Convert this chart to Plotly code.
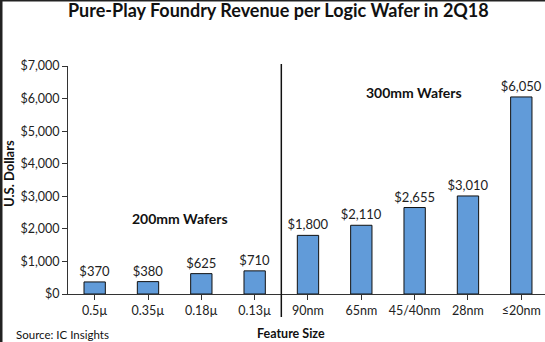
import plotly.graph_objects as go

# Revenue per wafer by process node, 2Q18
categories = ["0.5µ", "0.35µ", "0.18µ", "0.13µ", "90nm", "65nm", "45/40nm", "28nm", "≤20nm"]
revenue = [370, 380, 625, 710, 1800, 2110, 2655, 3010, 6050]
y_ticks = [0, 1000, 2000, 3000, 4000, 5000, 6000, 7000]
y_tick_labels = ["$0", "$1,000", "$2,000", "$3,000", "$4,000", "$5,000", "$6,000", "$7,000"]

W, H = 545, 342
ML, MR, MT, MB = 68, 0, 66, 48
pw, ph = W - ML - MR, H - MT - MB

def px_x(x):
    return (x - ML) / pw

def px_y(y):
    return (H - MB - y) / ph

FONT = "Lato, Calibri, sans-serif"
TXT = "#222222"

fig = go.Figure(
    go.Bar(
        x=list(range(len(categories))),
        y=revenue,
        width=0.4,
        marker=dict(color="#619bd9", line=dict(color="#111111", width=1)),
        text=[f"${v:,}" for v in revenue],
        textposition="outside",
        constraintext="none",
        cliponaxis=False,
        textfont=dict(family=FONT, size=13, color=TXT),
        hoverinfo="skip",
    )
)

fig.update_layout(
    width=W,
    height=H,
    margin=dict(l=ML, r=MR, t=MT, b=MB),
    paper_bgcolor="white",
    plot_bgcolor="white",
    showlegend=False,
    font=dict(family=FONT, color=TXT),
    xaxis=dict(
        range=[-0.5, -0.5 + pw / 53.33],
        tickmode="array",
        tickvals=list(range(len(categories))),
        ticktext=categories,
        tickson="boundaries",
        ticks="outside",
        ticklen=5,
        tickcolor="#333333",
        showline=True,
        linecolor="#333333",
        linewidth=1,
        showgrid=False,
        zeroline=False,
        tickfont=dict(family=FONT, size=12.5, color=TXT),
    ),
    yaxis=dict(
        range=[0, 7000],
        tickmode="array",
        tickvals=y_ticks,
        ticktext=y_tick_labels,
        ticks="outside",
        ticklen=5,
        tickcolor="#333333",
        showline=True,
        linecolor="#333333",
        linewidth=1,
        showgrid=False,
        zeroline=False,
        tickfont=dict(family=FONT, size=12.5, color=TXT),
    ),
)

# Divider between 200mm and 300mm nodes
fig.add_shape(type="line", xref="x", yref="paper", x0=3.5, x1=3.5,
              y0=px_y(317), y1=px_y(64), line=dict(color="#111111", width=1.5))

# Frame edges on the left and top
fig.add_shape(type="line", xref="paper", yref="paper", x0=px_x(1), x1=px_x(1),
              y0=px_y(H), y1=px_y(0), line=dict(color="#222222", width=3))
fig.add_shape(type="line", xref="paper", yref="paper", x0=px_x(0), x1=px_x(W),
              y0=px_y(0.5), y1=px_y(0.5), line=dict(color="#222222", width=2))

ann = [
    dict(text="<b>Pure-Play Foundry Revenue per Logic Wafer in 2Q18</b>", x=px_x(278), y=px_y(10),
         size=18),
    dict(text="<b>U.S. Dollars</b>", x=px_x(9), y=px_y(174), size=13, angle=-90),
    dict(text="<b>200mm Wafers</b>", x=px_x(180), y=px_y(218), size=14),
    dict(text="<b>300mm Wafers</b>", x=px_x(414), y=px_y(92), size=14),
    dict(text="<b>Feature Size</b>", x=px_x(291), y=px_y(333), size=12.5),
    dict(text="Source: IC Insights", x=px_x(62), y=px_y(334), size=11.5),
]
for a in ann:
    fig.add_annotation(
        text=a["text"], x=a["x"], y=a["y"], xref="paper", yref="paper",
        xanchor="center", yanchor="middle", showarrow=False,
        textangle=a.get("angle", 0),
        font=dict(family=FONT, size=a["size"], color="#111111"),
    )

fig.write_html("out.html")
